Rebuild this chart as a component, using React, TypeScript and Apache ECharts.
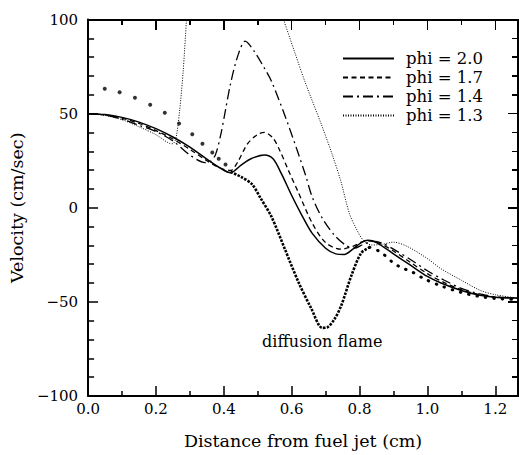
import React, { useEffect, useRef } from "react";
import * as echarts from "echarts";

const seriesNames = ["phi = 2.0", "phi = 1.7", "phi = 1.4", "phi = 1.3"];
const annotationText = "diffusion flame";
const xAxisTitle = "Distance from fuel jet (cm)";
const yAxisTitle = "Velocity (cm/sec)";

const phi20: [number, number][] = [
  [0, 50], [0.05, 49.5], [0.1, 48], [0.15, 45.5], [0.2, 42], [0.25, 37.6], [0.3, 32.2],
  [0.35, 25.8], [0.39, 21], [0.42, 18.6], [0.45, 22.5], [0.48, 26], [0.52, 28], [0.545, 26],
  [0.57, 18], [0.6, 6.5], [0.63, -4], [0.66, -13.5], [0.7, -21.5], [0.73, -24.5], [0.755, -24.8],
  [0.78, -22], [0.805, -18.5], [0.825, -17.3], [0.85, -18.5], [0.9, -24.5], [0.95, -30.5],
  [1.0, -36.5], [1.04, -40], [1.1, -44], [1.15, -46.3], [1.2, -47.5], [1.267, -48],
];

const phi17: [number, number][] = [
  [0, 50], [0.05, 49.3], [0.1, 47.5], [0.15, 44.8], [0.2, 41], [0.25, 36.5], [0.3, 31],
  [0.35, 25], [0.39, 21], [0.42, 19.8], [0.44, 24], [0.47, 34], [0.5, 39], [0.52, 40],
  [0.545, 37], [0.566, 30], [0.59, 20], [0.62, 8], [0.66, -8], [0.7, -18.5], [0.745, -22],
  [0.78, -20.5], [0.82, -17.5], [0.86, -19], [0.9, -23], [0.95, -29], [1.0, -35], [1.05, -39.8],
  [1.1, -43.5], [1.15, -46], [1.2, -47.5], [1.267, -48],
];

const phi14: [number, number][] = [
  [0, 50], [0.05, 49.2], [0.1, 47], [0.15, 43.8], [0.2, 40.5], [0.25, 35.5], [0.3, 28],
  [0.345, 24], [0.36, 24.5], [0.375, 28], [0.39, 38], [0.405, 52], [0.42, 66], [0.44, 80],
  [0.463, 88.5], [0.49, 83], [0.52, 74], [0.541, 67], [0.59, 44], [0.64, 17.8], [0.66, 6],
  [0.69, -5.5], [0.727, -14.8], [0.76, -20], [0.785, -21.5], [0.81, -19.5], [0.84, -17.8],
  [0.87, -19], [0.9, -22], [0.95, -27.5], [1.0, -33.5], [1.05, -38.5], [1.1, -42.8],
  [1.15, -45.6], [1.2, -47.3], [1.267, -48],
];

const phi13: [number, number][] = [
  [0, 50], [0.05, 49], [0.1, 46.8], [0.15, 43], [0.2, 38.8], [0.24, 34.2], [0.25, 34],
  [0.26, 38], [0.27, 52], [0.28, 72], [0.29, 100], [0.3, 130], [0.34, 175], [0.4, 195],
  [0.46, 170], [0.52, 130], [0.576, 100], [0.61, 82], [0.639, 67], [0.688, 44], [0.72, 28],
  [0.745, 14], [0.77, -3], [0.79, -11], [0.81, -17], [0.835, -19.8], [0.865, -19.5],
  [0.9, -18.3], [0.94, -20.5], [1.0, -27], [1.04, -32.4], [1.1, -38.5], [1.156, -43.9],
  [1.2, -46.2], [1.267, -48],
];

const flameSparse: [number, number][] = [
  [0.049, 63.2], [0.093, 61.4], [0.138, 58.4], [0.183, 54.7], [0.226, 50.5], [0.268, 44.8],
  [0.307, 39], [0.337, 34], [0.366, 29.4], [0.385, 26], [0.405, 23],
];

const flameDense: [number, number][] = [
  [0.42, 19], [0.45, 16.5], [0.483, 12.5], [0.507, 5.5], [0.541, -5], [0.58, -22],
  [0.62, -39.5], [0.658, -53.6], [0.69, -63.8], [0.705, -63.5], [0.725, -59.5], [0.746, -52],
  [0.776, -36], [0.805, -24], [0.83, -21],
];

const flameTail: [number, number][] = [
  [0.83, -21], [0.863, -23.6], [0.897, -28.9], [0.92, -31.5], [0.956, -34.2], [0.99, -37.7],
  [1.04, -41.5], [1.1, -45], [1.15, -47], [1.2, -48.2], [1.267, -48.8],
];

const annotationAt: [number, number] = [0.69, -71];

const xMin = 0;
const xMax = 1.267;
const xInterval = 0.2;
const xMinorStep = 0.1;
const yMin = -100;
const yMax = 100;
const yInterval = 50;
const yMinorStep = 10;

const W = 519;
const H = 455;
const G_LEFT = 85;
const G_RIGHT = 1;
const G_TOP = 19.5;
const G_BOTTOM = 57;

const FONT = "DejaVu Serif";

function fmtY(v: number) {
  if (v < 0) return "\u2212" + Math.abs(v);
  return String(v);
}
function fmtX(v: number) {
  const r = Math.round(v / xInterval);
  if (Math.abs(r * xInterval - v) > 1e-6) return "";
  return v.toFixed(1);
}

function axisLine() {
  return { show: true, onZero: false, lineStyle: { color: "#000", width: 2 } };
}
function majorTick() {
  return { show: true, inside: true, length: 10, lineStyle: { color: "#000", width: 1.5 } };
}

function xBase() {
  return {
    type: "value" as const,
    show: true,
    min: xMin,
    max: xMax,
    interval: xInterval,
    axisLine: axisLine(),
    axisTick: majorTick(),
    minorTick: { show: true, splitNumber: 2, length: 5, lineStyle: { color: "#000", width: 1.5 } },
    splitLine: { show: false },
  };
}
function yBase() {
  return {
    type: "value" as const,
    show: true,
    min: yMin,
    max: yMax,
    interval: yInterval,
    axisLine: axisLine(),
    axisTick: majorTick(),
    minorTick: { show: true, splitNumber: 5, length: 6, lineStyle: { color: "#000", width: 1.5 } },
    splitLine: { show: false },
  };
}

type Bar = { left: number; top: number; width: number; height: number };

export default function App() {
  const ref = useRef<HTMLDivElement>(null);
  const [frame, setFrame] = React.useState<Bar[]>([]);

  useEffect(() => {
    if (!ref.current) return;
    const chart = echarts.init(ref.current, undefined, { renderer: "svg" });
    const lineBase = {
      type: "line" as const,
      smooth: 0.3,
      symbol: "none",
      showSymbol: false,
      clip: true,
      z: 3,
    };
    chart.setOption({
      animation: false,
      grid: {
        left: G_LEFT,
        right: G_RIGHT,
        top: G_TOP,
        bottom: G_BOTTOM,
      },
      legend: {
        data: seriesNames,
        orient: "vertical",
        left: 342,
        top: 50,
        padding: 0,
        itemWidth: 51,
        itemHeight: 14,
        itemGap: 2,
        itemStyle: { opacity: 0 },
        textStyle: {
          fontFamily: FONT,
          fontSize: 16.5,
          color: "#000",
          lineHeight: 17,
          padding: [0, 0, 0, 7],
        },
        selectedMode: false,
      },
      xAxis: [
        {
          ...xBase(),
          position: "bottom",
          name: xAxisTitle,
          nameLocation: "middle",
          nameGap: 36,
          nameTextStyle: { fontFamily: FONT, fontSize: 17.5, color: "#000" },
          axisLabel: {
            show: true,
            margin: 5,
            formatter: fmtX,
            showMaxLabel: false,
            fontFamily: FONT,
            fontSize: 15,
            color: "#000",
          },
        },
      ],
      yAxis: [
        {
          ...yBase(),
          position: "left",
          name: yAxisTitle,
          nameLocation: "middle",
          nameGap: 57,
          nameTextStyle: { fontFamily: FONT, fontSize: 17.5, color: "#000" },
          axisLabel: {
            show: true,
            margin: 10,
            formatter: fmtY,
            fontFamily: FONT,
            fontSize: 15,
            color: "#000",
          },
        },
      ],
      series: [
        {
          ...lineBase,
          name: seriesNames[0],
          data: phi20,
          lineStyle: { color: "#000", width: 1.5, type: "solid" },
          itemStyle: { color: "#000" },
        },
        {
          ...lineBase,
          name: seriesNames[1],
          data: phi17,
          lineStyle: { color: "#000", width: 1.3, type: [5, 3.5] },
          itemStyle: { color: "#000" },
        },
        {
          ...lineBase,
          name: seriesNames[2],
          data: phi14,
          lineStyle: { color: "#000", width: 1.3, type: [10, 4, 2, 4] },
          itemStyle: { color: "#000" },
        },
        {
          ...lineBase,
          name: seriesNames[3],
          data: phi13,
          lineStyle: { color: "#000", width: 1, type: [1, 1.5] },
          itemStyle: { color: "#000" },
        },
        {
          type: "scatter",
          name: "flame-sparse",
          data: flameSparse,
          symbol: "circle",
          symbolSize: 4,
          itemStyle: { color: "#000" },
          z: 4,
        },
        {
          ...lineBase,
          name: "flame-dense",
          data: flameDense,
          lineStyle: { color: "#000", width: 2.6, type: [2.5, 1.3] },
          markPoint: {
            symbol: "circle",
            symbolSize: 0,
            data: [{ coord: annotationAt, value: annotationText }],
            label: {
              show: true,
              position: "inside",
              formatter: annotationText,
              fontFamily: FONT,
              fontSize: 16,
              color: "#000",
            },
          },
        },
        {
          ...lineBase,
          name: "flame-tail",
          data: flameTail,
          lineStyle: { color: "#000", width: 3, type: [0.5, 8], cap: "round" },
        },
      ],
    });

    // Mirror frame (top and right edges with inward ticks), placed with the chart's own scale.
    const toPx = (x: number, y: number): number[] => {
      try {
        const p = chart.convertToPixel({ xAxisIndex: 0, yAxisIndex: 0 }, [x, y]) as number[];
        if (p && isFinite(p[0]) && isFinite(p[1])) return p;
      } catch (e) {
        /* fall through */
      }
      const pw = W - G_LEFT - G_RIGHT;
      const ph = H - G_TOP - G_BOTTOM;
      return [
        G_LEFT + ((x - xMin) / (xMax - xMin)) * pw,
        G_TOP + ((yMax - y) / (yMax - yMin)) * ph,
      ];
    };
    const tl = toPx(xMin, yMax);
    const br = toPx(xMax, yMin);
    const bars: Bar[] = [];
    bars.push({ left: tl[0] - 1, top: tl[1] - 1, width: br[0] - tl[0] + 2, height: 2 });
    bars.push({ left: br[0] - 1, top: tl[1] - 1, width: 2, height: br[1] - tl[1] + 2 });
    const nX = Math.floor((xMax - xMin) / xMinorStep + 1e-9);
    for (let i = 0; i <= nX; i++) {
      const v = xMin + i * xMinorStep;
      const p = toPx(v, yMax);
      const len = i % 2 === 0 ? 10 : 5;
      bars.push({ left: p[0] - 0.75, top: tl[1], width: 1.5, height: len });
    }
    const nY = Math.round((yMax - yMin) / yMinorStep);
    for (let j = 0; j <= nY; j++) {
      const v = yMin + j * yMinorStep;
      const p = toPx(xMax, v);
      const len = Math.abs(v % yInterval) < 1e-9 ? 10 : 6;
      bars.push({ left: br[0] - len, top: p[1] - 0.75, width: len, height: 1.5 });
    }
    setFrame(bars);

    return () => chart.dispose();
  }, []);

  return (
    <div style={{ position: "fixed", left: 0, top: 0, width: W, height: H, background: "#fff" }}>
      <div ref={ref} style={{ position: "absolute", left: 0, top: 0, width: W, height: H }} />
      <div style={{ position: "absolute", left: 0, top: 0, width: W, height: H, pointerEvents: "none" }}>
        {frame.map((b, k) => (
          <div
            key={k}
            style={{
              position: "absolute",
              left: b.left,
              top: b.top,
              width: b.width,
              height: b.height,
              background: "#000",
            }}
          />
        ))}
      </div>
    </div>
  );
}
